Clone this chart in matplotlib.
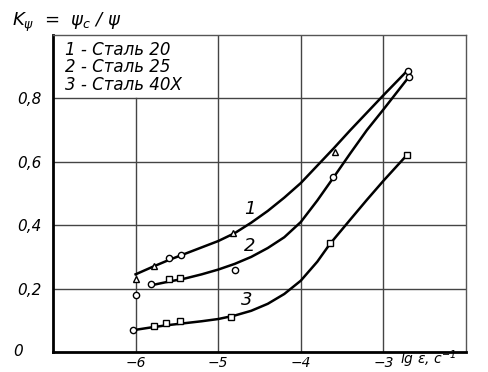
import matplotlib.pyplot as plt

# curve traces (lg strain rate, K_psi)
curve1_x = [-6.0, -5.8, -5.6, -5.4, -5.2, -5.0, -4.8, -4.6, -4.4, -4.2, -4.0,
            -3.8, -3.6, -3.4, -3.2, -3.0, -2.72]
curve1_y = [0.245, 0.268, 0.29, 0.31, 0.33, 0.35, 0.375, 0.408, 0.445, 0.487,
            0.533, 0.588, 0.643, 0.70, 0.755, 0.81, 0.885]
curve2_x = [-5.82, -5.6, -5.4, -5.2, -5.0, -4.8, -4.6, -4.4, -4.2, -4.0, -3.8,
            -3.6, -3.4, -3.2, -3.0, -2.7]
curve2_y = [0.21, 0.222, 0.232, 0.245, 0.26, 0.278, 0.30, 0.328, 0.362, 0.41,
            0.478, 0.552, 0.627, 0.70, 0.765, 0.865]
curve3_x = [-6.0, -5.8, -5.6, -5.4, -5.2, -5.0, -4.8, -4.6, -4.4, -4.2, -4.0,
            -3.8, -3.65, -3.4, -3.2, -3.0, -2.72]
curve3_y = [0.07, 0.078, 0.085, 0.091, 0.097, 0.104, 0.115, 0.13, 0.152, 0.183,
            0.225, 0.285, 0.34, 0.418, 0.48, 0.54, 0.62]

# measured points
tri1_x = [-6.0, -5.78, -4.82, -3.59]
tri1_y = [0.23, 0.27, 0.375, 0.63]
circ1_x = [-5.6, -5.45, -2.70]
circ1_y = [0.295, 0.305, 0.886]
circ2_x = [-6.0, -5.81, -4.8, -3.61, -2.69]
circ2_y = [0.18, 0.215, 0.258, 0.552, 0.867]
sq2_x = [-5.6, -5.46]
sq2_y = [0.23, 0.235]
circ3_x = [-6.03]
circ3_y = [0.07]
sq3_x = [-5.78, -5.63, -5.46, -4.84, -3.65, -2.71]
sq3_y = [0.083, 0.092, 0.098, 0.11, 0.343, 0.622]

xticks = [-6, -5, -4, -3]
xtick_labels = ["−6", "−5", "−4", "−3"]
yticks = [0.2, 0.4, 0.6, 0.8]
ytick_labels = ["0,2", "0,4", "0,6", "0,8"]
legend_lines = ["1 - Сталь 20", "2 - Сталь 25", "3 - Сталь 40Х"]
curve_labels = ["1", "2", "3"]
curve_label_pos = [(-4.62, 0.45), (-4.62, 0.335), (-4.65, 0.165)]

plt.rcParams['font.family'] = ['DejaVu Sans']
plt.rcParams['font.style'] = 'italic'
plt.rcParams['mathtext.fontset'] = 'dejavusans'

fig = plt.figure(figsize=(4.88, 3.72), dpi=100)
ax = fig.add_axes([0.1086, 0.0538, 0.8463, 0.852])
ax.set_xlim(-7, -2)
ax.set_ylim(0, 1.0)

# grid (the -6 line stops under the legend block)
grid_kw = dict(color="#444444", lw=1.0, zorder=1)
ax.axvline(-6, ymax=0.8, **grid_kw)
for xv in [-5, -4, -3]:
    ax.axvline(xv, **grid_kw)
for yv in yticks:
    ax.axhline(yv, **grid_kw)

for s in ["left", "bottom"]:
    ax.spines[s].set_linewidth(2.0)
for s in ["top", "right"]:
    ax.spines[s].set_linewidth(1.0)
    ax.spines[s].set_color("#555555")

ax.plot(curve1_x, curve1_y, color="black", lw=1.8, zorder=3)
ax.plot(curve2_x, curve2_y, color="black", lw=1.8, zorder=3)
ax.plot(curve3_x, curve3_y, color="black", lw=1.8, zorder=3)

mk = dict(ls="none", mfc="white", mec="black", mew=1.0, zorder=4)
ax.plot(tri1_x, tri1_y, marker="^", ms=4.5, **mk)
ax.plot(circ1_x, circ1_y, marker="o", ms=4.5, **mk)
ax.plot(circ2_x, circ2_y, marker="o", ms=4.5, **mk)
ax.plot(sq2_x, sq2_y, marker="s", ms=4.5, **mk)
ax.plot(circ3_x, circ3_y, marker="o", ms=4.5, **mk)
ax.plot(sq3_x, sq3_y, marker="s", ms=4.5, **mk)

for lab, (lx, ly) in zip(curve_labels, curve_label_pos):
    ax.text(lx, ly, lab, fontsize=13, ha="center", va="center", zorder=5)

ax.set_xticks(xticks)
ax.set_xticklabels(xtick_labels, fontsize=10)
ax.set_yticks(yticks)
ax.set_yticklabels(ytick_labels, fontsize=11)
ax.tick_params(axis="x", length=0, pad=3)
ax.tick_params(axis="y", length=0, pad=8)
ax.text(-7.42, 0.0, "0", fontsize=11, ha="center", va="center", clip_on=False)
ax.text(-2.8, -0.038, r"lg $\dot{\varepsilon}$, c$^{-1}$", fontsize=10,
        ha="left", va="baseline", clip_on=False)

for i, t in enumerate(legend_lines):
    ax.text(-6.85, 0.953 - i * 0.055, t, fontsize=12, ha="left", va="center")

fig.text(0.025, 0.94, r"K$_{\psi}$  =  $\psi_c$ / $\psi$", fontsize=13,
         ha="left", va="center")

fig.savefig("out.png", dpi=100)
